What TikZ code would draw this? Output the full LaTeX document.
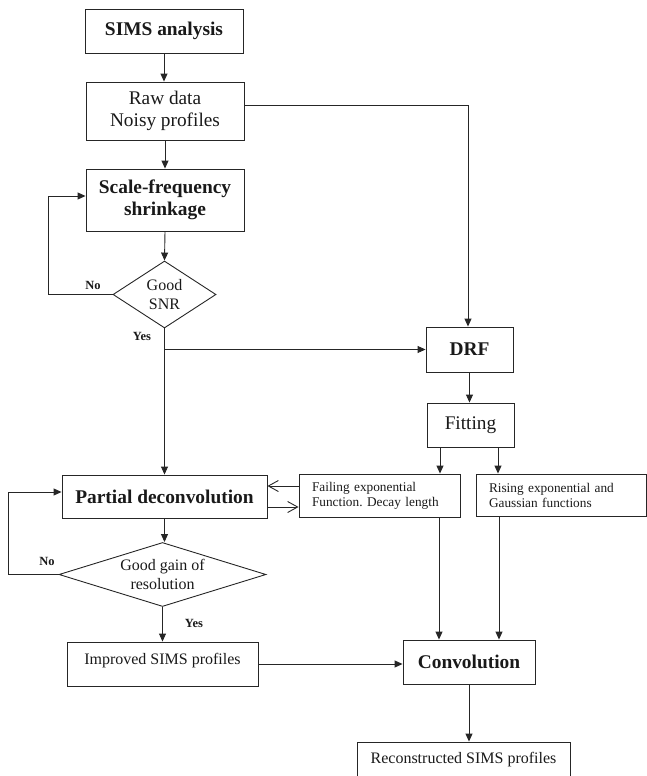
\documentclass[tikz,border=0pt]{standalone}
\usepackage{fontspec}
\setmainfont{Liberation Serif}
\usetikzlibrary{arrows.meta,shapes.geometric}
\frenchspacing
\begin{document}
\begin{tikzpicture}[x=1pt,y=-1pt,
  line width=0.9pt,
  ln/.style={draw=black!85},
  arr/.style={ln,-{Triangle[length=8pt,width=7pt]}},
  oarr/.style={ln,-{Straight Barb[length=10pt,width=11pt,line width=0.9pt]}},
  box/.style={draw=black!85,rectangle,inner sep=0pt,align=center,text=black!90},
  dia/.style={draw=black!85,diamond,inner sep=0pt,align=center,text=black!90,
    font=\fontsize{16pt}{18.8pt}\selectfont},
  fbig/.style={font=\fontsize{19.4pt}{22.5pt}\selectfont\bfseries},
  freg/.style={font=\fontsize{19.3pt}{21.6pt}\selectfont},
  fmid/.style={font=\fontsize{16pt}{19pt}\selectfont},
  fsm/.style={font=\fontsize{13.3pt}{15pt}\selectfont},
  lab/.style={font=\fontsize{12.5pt}{14pt}\selectfont\bfseries,text=black!90,inner sep=0pt}]
\useasboundingbox (0,0) rectangle (647,776);
\clip (0,0) rectangle (647,776);

% nodes
\node[box,fbig,minimum width=158pt,minimum height=44pt] (sims) at (164,31) {SIMS analysis};
\node[box,freg,minimum width=158pt,minimum height=58pt] (raw) at (165,111) {Raw data\\Noisy profiles};
\node[box,fbig,minimum width=158pt,minimum height=62pt] (sfs) at (165,200) {Scale-frequency\\shrinkage};
\node[dia,shape aspect=1.54,minimum width=103pt,minimum height=67pt] (snr) at (164.5,294.5) {Good\\SNR};
\node[box,fbig,minimum width=87pt,minimum height=45pt] (drf) at (469.5,349.5) {DRF};
\node[box,freg,minimum width=87pt,minimum height=44pt] (fit) at (470.5,425) {Fitting};
\node[box,fbig,minimum width=205pt,minimum height=43pt] (pd) at (164.5,496.5) {Partial deconvolution};
\node[box,fsm,minimum width=161pt,minimum height=43pt,text width=135pt,align=left,inner xsep=13pt] (fail) at (379.5,495.5) {Failing exponential\\Function. Decay length};
\node[box,fsm,minimum width=170pt,minimum height=42pt,text width=144pt,align=left,inner xsep=13pt] (rise) at (561,495) {Rising exponential and\\Gaussian functions};
\node[dia,shape aspect=3.23,minimum width=207pt,minimum height=64pt] (gain) at (162.5,574.5) {Good gain of\\resolution};
\node[box,fmid,minimum width=191pt,minimum height=44pt,text height=12pt,text depth=12pt] (imp) at (162.5,664) {Improved SIMS profiles};
\node[box,fbig,minimum width=132pt,minimum height=44pt] (conv) at (469,662) {Convolution};
\node[box,fmid,minimum width=213pt,minimum height=36pt] (rec) at (463.5,760) {Reconstructed SIMS profiles};

% helper coordinates
\coordinate (fl) at ([xshift=-30.5pt]fit.south);
\coordinate (fr) at ([xshift=27.5pt]fit.south);
\coordinate (cl) at ([xshift=-30pt]conv.north);
\coordinate (cr) at ([xshift=30pt]conv.north);

% connectors
\draw[arr] (sims) -- (sims.south |- raw.north);
\draw[arr] (raw) -- (raw.south |- sfs.north);
\draw[arr] ([yshift=6pt]raw.east) -| ([xshift=-1.5pt]drf.north);
\draw[arr] (sfs.south) -- (snr.north);
\draw[arr] (snr.west) -- ++(-64,0) |- ([yshift=4pt]sfs.west);
\node[lab] (no1) at (93,285) {No};
\draw[arr] (snr.south) -- (snr.south |- pd.north);
\node[lab] (yes1) at (142,336) {Yes};
\draw[arr] (snr.south |- drf.west) -- (drf.west);
\draw[arr] (drf.south) -- (drf.south |- fit.north);
\draw[arr] (fl) -- (fl |- fail.north);
\draw[arr] (fr) -- (fr |- rise.north);
\draw[arr] (cl |- fail.south) -- (cl);
\draw[arr] (cr |- rise.south) -- (cr);
\draw[oarr] ([yshift=9.5pt]fail.west) -- ([yshift=9.5pt]fail.west -| pd.east);
\draw[oarr] ([yshift=-10.5pt]pd.east) -- ([yshift=-10.5pt]pd.east -| fail.west);
\draw[arr] (pd.south) -- (pd.south |- gain.north);
\draw[arr] (gain.west) -- ++(-50.5,0) |- ([yshift=4.5pt]pd.west);
\node[lab] (no2) at (47,561) {No};
\draw[arr] (gain.south) -- (gain.south |- imp.north);
\node[lab] (yes2) at (194,623) {Yes};
\draw[arr] (imp.east) -- (imp.east -| conv.west);
\draw[arr] (conv.south) -- (conv.south |- rec.north);
\end{tikzpicture}
\end{document}
